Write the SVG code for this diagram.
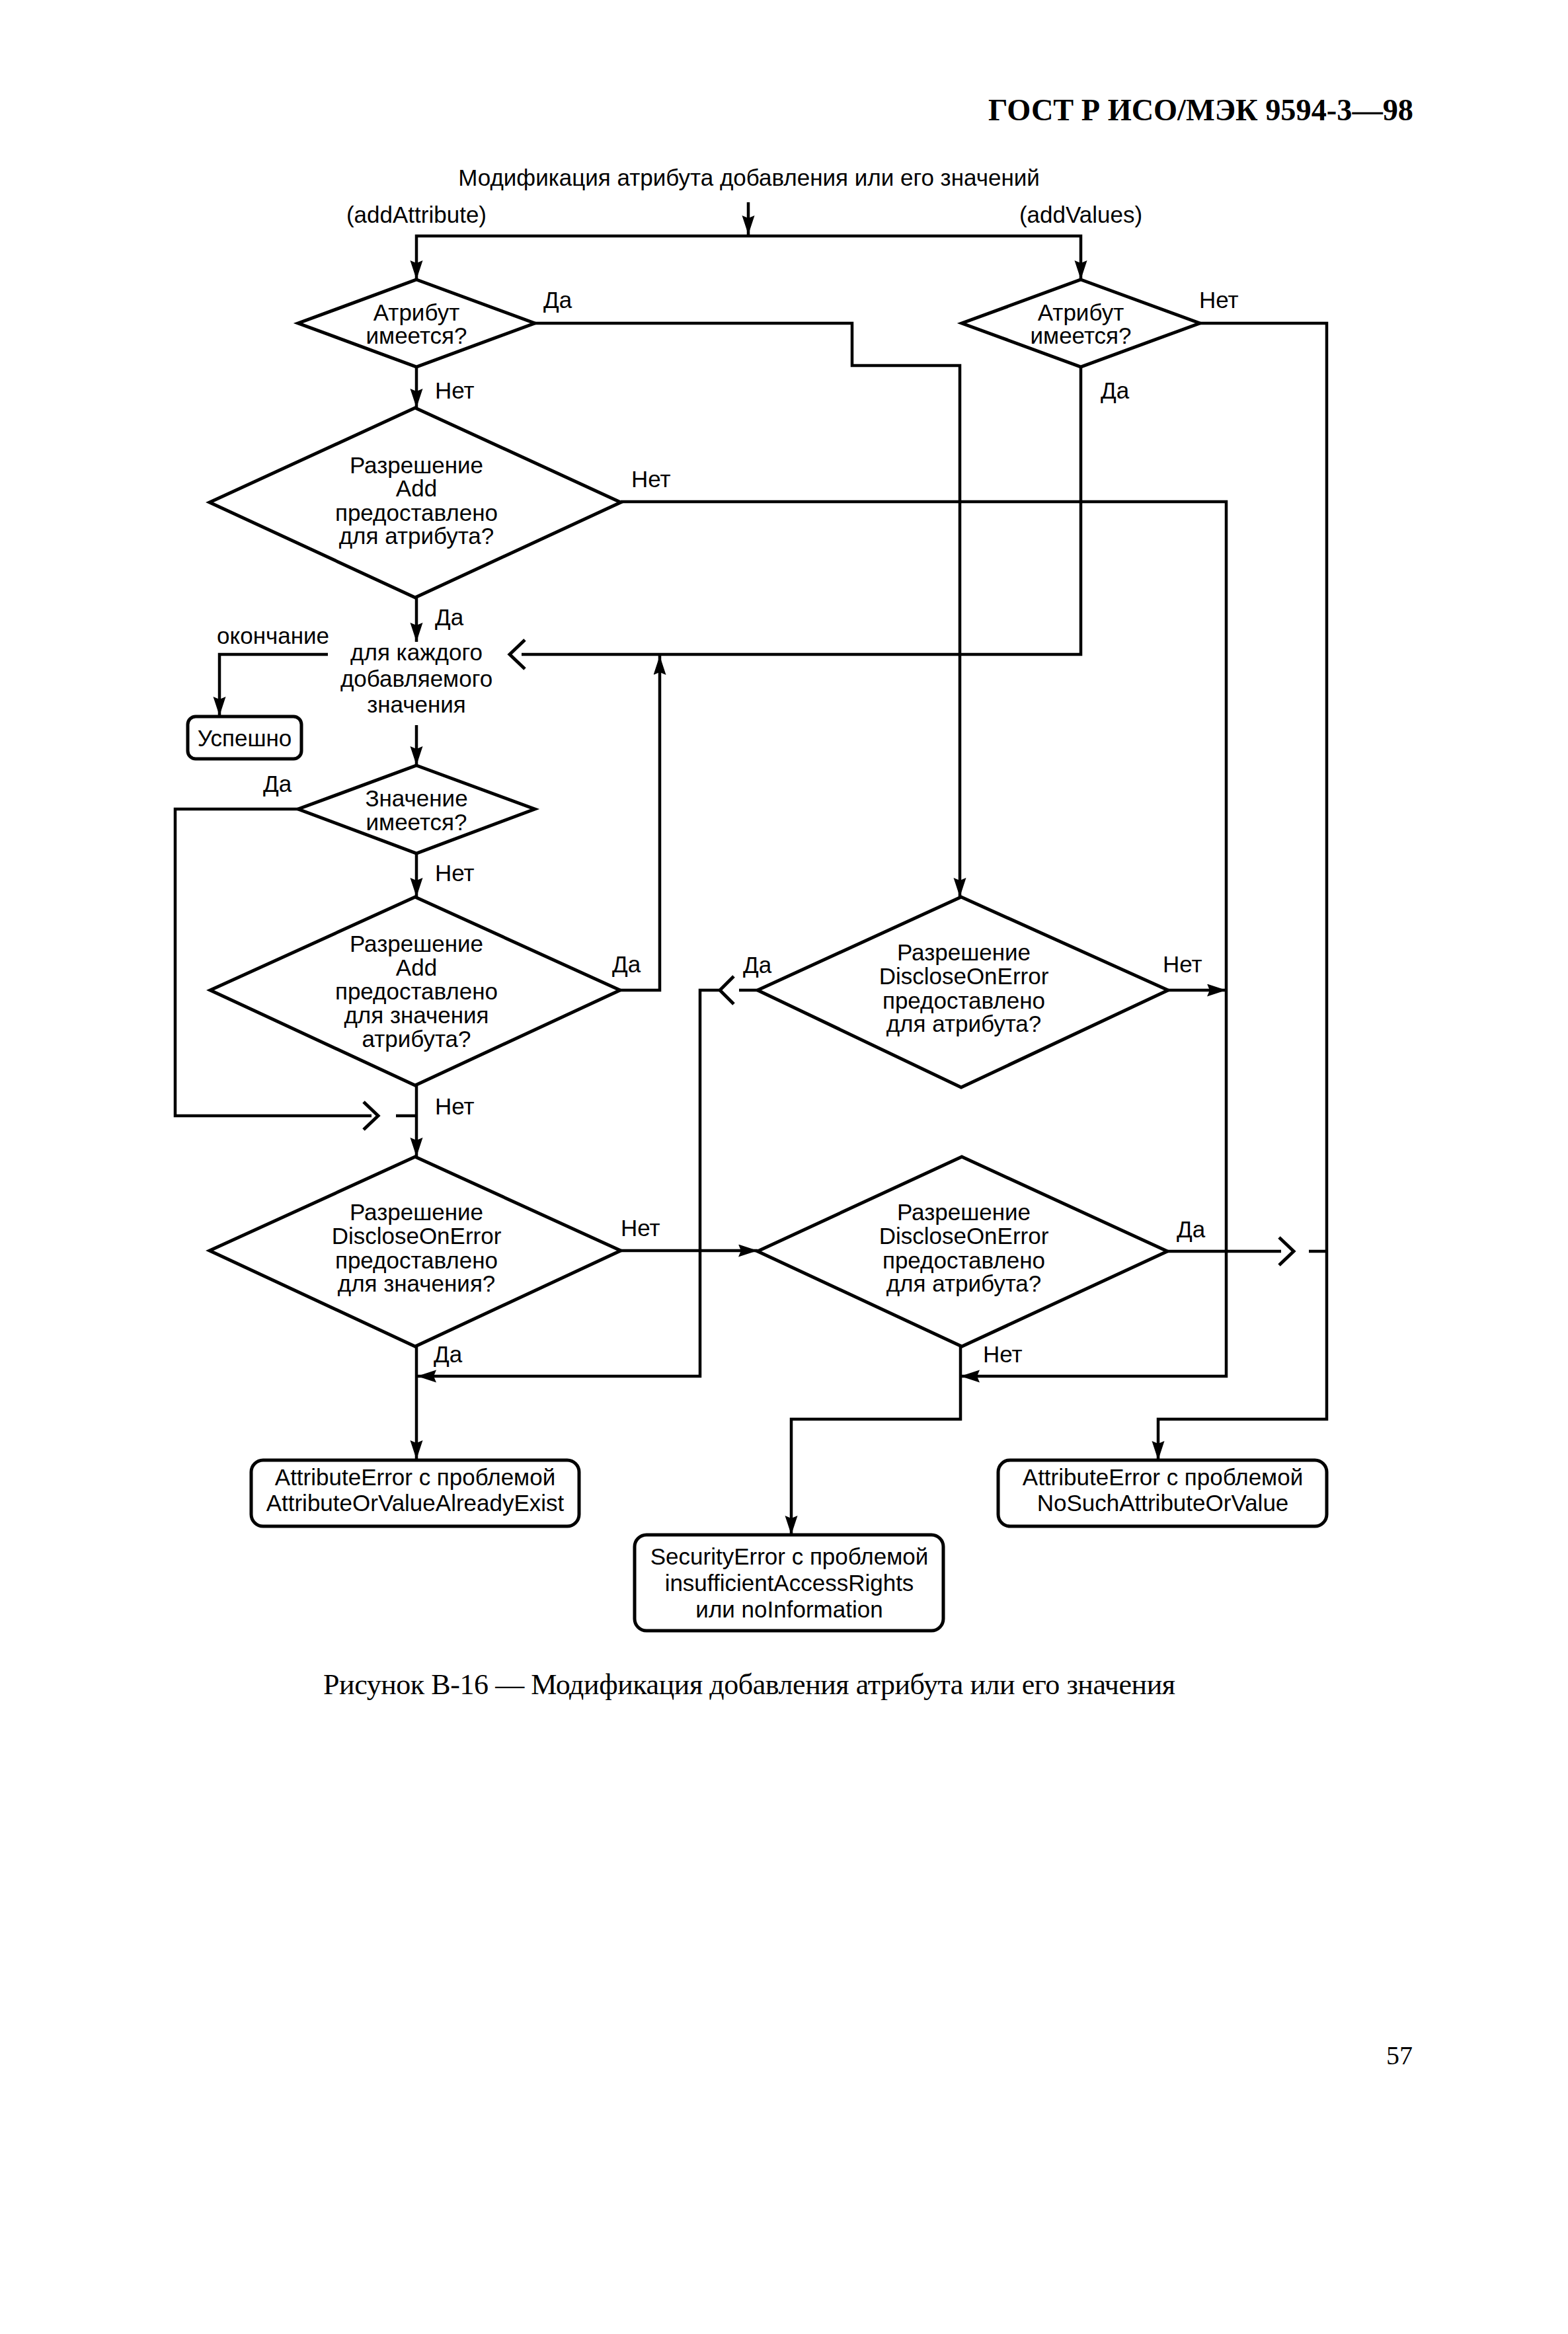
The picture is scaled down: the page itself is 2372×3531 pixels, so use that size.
<svg xmlns="http://www.w3.org/2000/svg" width="2372" height="3531" viewBox="0 0 2372 3531">
<style>
  .bg { fill: #ffffff; }
  .shape { fill: none; stroke: #000; stroke-width: 5; stroke-linejoin: miter; }
  .box { fill: none; stroke: #000; stroke-width: 5; }
  .ln { fill: none; stroke: #000; stroke-width: 4.5; }
  .arr { fill: none; stroke: #000; stroke-width: 4.5; marker-end: url(#ah); }
  .chev { fill: none; stroke: #000; stroke-width: 5; stroke-linecap: butt; stroke-linejoin: miter; }
  text { font-family: "Liberation Sans", Arial, sans-serif; font-size: 35px; fill: #000; }
  .c { text-anchor: middle; }
  .serif { font-family: "Liberation Serif", "Times New Roman", serif; }
  .hdr { font-size: 46px; font-weight: bold; }
  .cap { font-size: 44px; }
  .pg { font-size: 40px; }
</style>
<defs>
  <marker id="ah" markerUnits="userSpaceOnUse" markerWidth="32" markerHeight="20" refX="29" refY="9.5" orient="auto">
    <path d="M0,0 L29,9.5 L0,19 L4,9.5 z" fill="#000"/>
  </marker>
</defs>
<rect class="bg" x="0" y="0" width="2372" height="3531"/>

<text class="serif hdr" x="1495" y="182" textLength="643" lengthAdjust="spacingAndGlyphs">ГОСТ Р ИСО/МЭК 9594-3—98</text>

<g id="title">
  <text class="c" x="1133" y="281">Модификация атрибута добавления или его значений</text>
  <text class="c" x="630" y="337">(addAttribute)</text>
  <text class="c" x="1635" y="337">(addValues)</text>
</g>

<g id="connectors">
  <path class="arr" d="M1132,306 V355"/>
  <path class="arr" d="M1132,357 H630 V423"/>
  <path class="arr" d="M1132,357 H1635 V423"/>
  <path class="arr" d="M630,555 V617"/>
  <path class="arr" d="M630,904 V971"/>
  <path class="arr" d="M809,489 H1289 V553 H1452 V1357"/>
  <path class="arr" d="M1815,489 H2007 V2147 H1752 V2209"/>
  <path class="ln" d="M1635,555 V990 H789"/>
  <polyline class="chev" points="794,968 771,990 794,1012"/>
  <path class="arr" d="M939,759 H1855 V2082 H1453"/>
  <path class="arr" d="M496,990 H332 V1083"/>
  <path class="arr" d="M630,1097 V1158"/>
  <path class="ln" d="M451,1224 H265 V1688 H562"/>
  <polyline class="chev" points="550,1667 572,1688 550,1709"/>
  <path class="ln" d="M599,1688 H630"/>
  <path class="arr" d="M630,1291 V1357"/>
  <path class="arr" d="M938,1498 H998 V992"/>
  <path class="arr" d="M630,1642 V1750"/>
  <path class="arr" d="M939,1892 H1146"/>
  <path class="arr" d="M630,2037 V2208"/>
  <path class="ln" d="M1146,1498 H1118"/>
  <polyline class="chev" points="1110,1477 1089,1498 1110,1519"/>
  <path class="arr" d="M1089,1498 H1059 V2082 H631"/>
  <path class="arr" d="M1767,1498 H1855"/>
  <path class="ln" d="M1766,1893 H1938"/>
  <polyline class="chev" points="1935,1872 1957,1893 1935,1914"/>
  <path class="ln" d="M1980,1893 H2007"/>
  <path class="arr" d="M1453,2037 V2147 H1197 V2322"/>
</g>

<g id="d1">
  <polygon class="shape" points="630,423 809,489 630,555 451,489"/>
  <text class="c" x="630" y="485">Атрибут</text>
  <text class="c" x="630" y="520">имеется?</text>
</g>
<g id="d2">
  <polygon class="shape" points="1635,423 1815,489 1635,555 1455,489"/>
  <text class="c" x="1635" y="485">Атрибут</text>
  <text class="c" x="1635" y="520">имеется?</text>
</g>
<g id="labels">
  <text x="822" y="466">Да</text>
  <text x="1814" y="466">Нет</text>
  <text x="658" y="603">Нет</text>
  <text x="1665" y="603">Да</text>
  <text x="955" y="737">Нет</text>
  <text x="658" y="946">Да</text>
  <text x="328" y="974">окончание</text>
  <text x="398" y="1198">Да</text>
  <text x="658" y="1333">Нет</text>
  <text x="926" y="1471">Да</text>
  <text x="658" y="1686">Нет</text>
  <text x="939" y="1870">Нет</text>
  <text x="656" y="2061">Да</text>
  <text x="1124" y="1472">Да</text>
  <text x="1759" y="1471">Нет</text>
  <text x="1780" y="1872">Да</text>
  <text x="1487" y="2061">Нет</text>
</g>
<g id="d3">
  <polygon class="shape" points="628,617 939,760 628,904 317,760"/>
  <text class="c" x="630" y="716">Разрешение</text>
  <text class="c" x="630" y="751">Add</text>
  <text class="c" x="630" y="788">предоставлено</text>
  <text class="c" x="630" y="823">для атрибута?</text>
</g>
<g id="loop">
  <text class="c" x="630" y="999">для каждого</text>
  <text class="c" x="630" y="1039">добавляемого</text>
  <text class="c" x="630" y="1078">значения</text>
</g>
<g id="success">
  <rect class="box" x="284" y="1084" width="172" height="64" rx="12"/>
  <text class="c" x="370" y="1129">Успешно</text>
</g>
<g id="d4">
  <polygon class="shape" points="630,1158 809,1224 630,1291 451,1224"/>
  <text class="c" x="630" y="1220">Значение</text>
  <text class="c" x="630" y="1256">имеется?</text>
</g>
<g id="d5">
  <polygon class="shape" points="628,1357 938,1498 628,1642 318,1498"/>
  <text class="c" x="630" y="1440">Разрешение</text>
  <text class="c" x="630" y="1476">Add</text>
  <text class="c" x="630" y="1512">предоставлено</text>
  <text class="c" x="630" y="1548">для значения</text>
  <text class="c" x="630" y="1584">атрибута?</text>
</g>
<g id="d6">
  <polygon class="shape" points="628,1750 939,1892 628,2037 317,1892"/>
  <text class="c" x="630" y="1846">Разрешение</text>
  <text class="c" x="630" y="1882">DiscloseOnError</text>
  <text class="c" x="630" y="1919">предоставлено</text>
  <text class="c" x="630" y="1954">для значения?</text>
</g>
<g id="d7">
  <polygon class="shape" points="1454,1357 1767,1498 1454,1645 1146,1498"/>
  <text class="c" x="1458" y="1453">Разрешение</text>
  <text class="c" x="1458" y="1489">DiscloseOnError</text>
  <text class="c" x="1458" y="1526">предоставлено</text>
  <text class="c" x="1458" y="1561">для атрибута?</text>
</g>
<g id="d8">
  <polygon class="shape" points="1455,1750 1766,1893 1455,2037 1146,1893"/>
  <text class="c" x="1458" y="1846">Разрешение</text>
  <text class="c" x="1458" y="1882">DiscloseOnError</text>
  <text class="c" x="1458" y="1919">предоставлено</text>
  <text class="c" x="1458" y="1954">для атрибута?</text>
</g>
<g id="err1">
  <rect class="box" x="380" y="2209" width="496" height="100" rx="18"/>
  <text class="c" x="628" y="2247">AttributeError с проблемой</text>
  <text class="c" x="628" y="2286">AttributeOrValueAlreadyExist</text>
</g>
<g id="err2">
  <rect class="box" x="1510" y="2209" width="497" height="100" rx="18"/>
  <text class="c" x="1759" y="2247">AttributeError с проблемой</text>
  <text class="c" x="1759" y="2286">NoSuchAttributeOrValue</text>
</g>
<g id="err3">
  <rect class="box" x="960" y="2322" width="467" height="145" rx="18"/>
  <text class="c" x="1194" y="2367">SecurityError с проблемой</text>
  <text class="c" x="1194" y="2407">insufficientAccessRights</text>
  <text class="c" x="1194" y="2447">или noInformation</text>
</g>

<text class="serif cap" x="489" y="2563" textLength="1289" lengthAdjust="spacing">Рисунок В-16 — Модификация добавления атрибута или его значения</text>
<text class="serif pg" x="2097" y="3123">57</text>
</svg>
